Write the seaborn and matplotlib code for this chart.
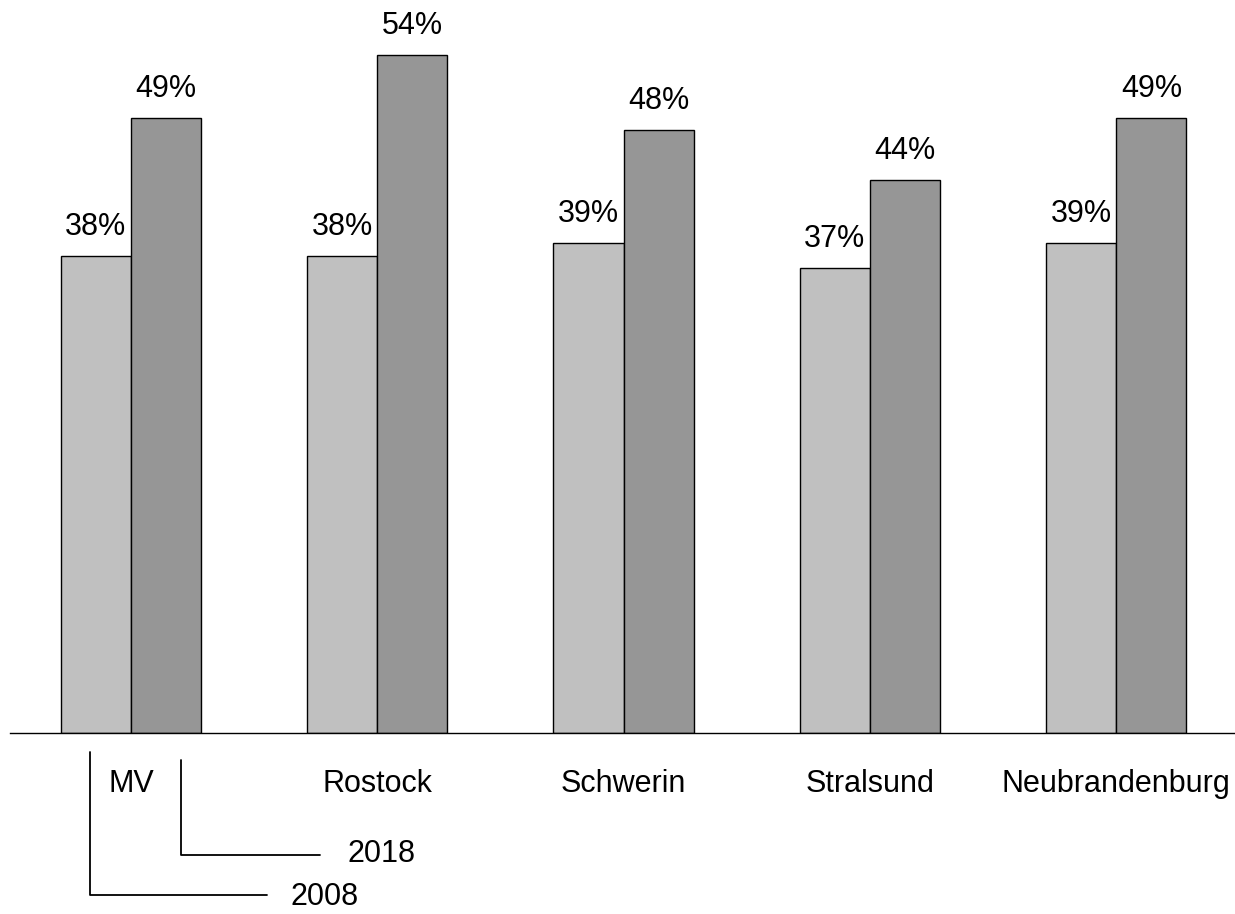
import seaborn as sns
import matplotlib.pyplot as plt
import pandas as pd

sns.set_style("white")
plt.rcParams["font.family"] = ["Liberation Sans", "DejaVu Sans"]
plt.rcParams["text.color"] = "black"
plt.rcParams["xtick.color"] = "black"

# Data
cities = ["MV", "Rostock", "Schwerin", "Stralsund", "Neubrandenburg"]
years = ["2008", "2018"]
share_2008 = [38, 38, 39, 37, 39]
share_2018 = [49, 54, 48, 44, 49]
colors = ["#C0C0C0", "#969696"]

df = pd.DataFrame({
    "Stadt": cities * 2,
    "Jahr": [years[0]] * len(cities) + [years[1]] * len(cities),
    "Anteil": share_2008 + share_2018,
})

fig = plt.figure(figsize=(12.35, 9.14), dpi=100)
ax = fig.add_axes([10 / 1235, 181 / 914, 1 - 10 / 1235, 733 / 914])

sns.barplot(data=df, x="Stadt", y="Anteil", hue="Jahr", order=cities,
            hue_order=years, palette=colors, width=0.57, gap=0,
            edgecolor="black", linewidth=1.0, saturation=1, legend=False,
            ax=ax)

for cont in ax.containers:
    ax.bar_label(cont, labels=[f"{v:.0f}%" for v in cont.datavalues],
                 padding=10, fontsize=22, color="black")

ax.set_xlim(-0.491, 4.482)
ax.set_ylim(0, 58.36)
ax.set_xlabel("")
ax.set_ylabel("")
ax.set_yticks([])
ax.tick_params(axis="x", length=0, pad=26, labelsize=22, labelcolor="black")
for s in ["top", "right", "left"]:
    ax.spines[s].set_visible(False)
ax.spines["bottom"].set_color("black")
ax.spines["bottom"].set_linewidth(1.0)

# leader lines for the series labels under the first group
ax.plot([-0.166, -0.166, 0.552], [-1.5, -12.9, -12.9], color="black",
        lw=1.3, clip_on=False)
ax.plot([0.203, 0.203, 0.767], [-2.15, -9.7, -9.7], color="black",
        lw=1.3, clip_on=False)
ax.text(0.646, -13.05, years[0], fontsize=22, ha="left", va="center",
        color="black", clip_on=False)
ax.text(0.881, -9.6, years[1], fontsize=22, ha="left", va="center",
        color="black", clip_on=False)

plt.savefig("out.png", dpi=100)
plt.close()
